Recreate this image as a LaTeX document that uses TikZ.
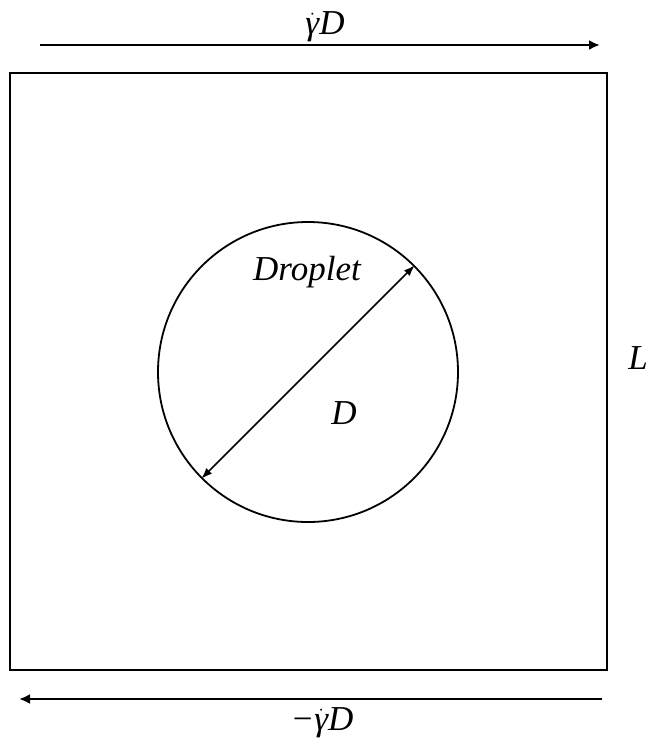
\documentclass[tikz,border=0pt]{standalone}
\usepackage{fontspec}
\setmainfont{Liberation Serif}
\usetikzlibrary{arrows.meta}
\tikzset{
  frame/.style={draw=black, line width=2.2pt},
  drop/.style={draw=black, line width=1.8pt},
  shear/.style={draw=black, line width=2.4pt, -{Latex[length=11pt,width=10pt]}},
  diam/.style={draw=black, line width=1.6pt, {Latex[length=11pt,width=8pt]}-{Latex[length=11pt,width=8pt]}},
  lab/.style={font=\fontsize{35}{38}\selectfont\itshape, inner sep=0pt}
}
\newcommand{\gdot}{\ensuremath{\dot{\mbox{\itshape γ}}}}
\begin{document}
\begin{tikzpicture}[x=1pt,y=-1pt]
\useasboundingbox (0,0) rectangle (650,740);
% domain
\node[frame, minimum width=597pt, minimum height=597pt, inner sep=0pt] (box) at (308.5,371.5) {};
% droplet
\node[drop, circle, minimum size=300pt, inner sep=0pt] (drop) at (308,372) {};
% shear arrows
\coordinate (ts) at (40,45);
\coordinate (te) at (600,45);
\coordinate (bs) at (602,699);
\coordinate (be) at (19,699);
\draw[shear] (ts) -- (te);
\draw[shear] (bs) -- (be);
% diameter
\draw[diam] (drop.225) -- (drop.45);
% labels
\node[lab] (top) at (325,27) {\gdot D};
\node[lab] (bot) at (322,723) {−\gdot D};
\node[lab] (L) at (638,358) {L};
\node[lab] (dl) at (307,272) {Droplet};
\node[lab] (dd) at (344,413) {D};
\end{tikzpicture}
\end{document}
